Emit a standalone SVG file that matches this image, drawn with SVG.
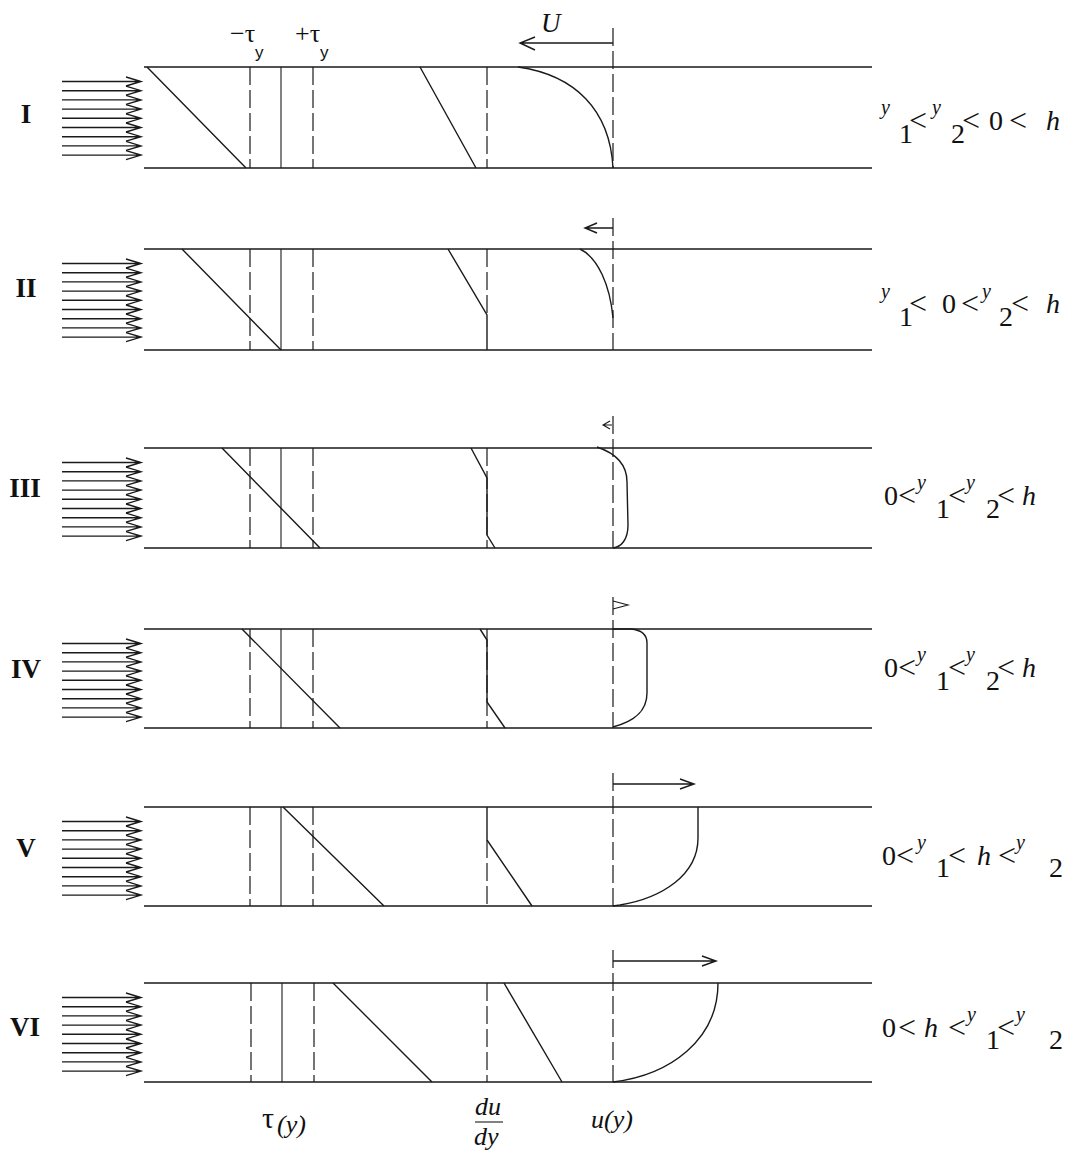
<svg xmlns="http://www.w3.org/2000/svg" xmlns:xlink="http://www.w3.org/1999/xlink" width="1073" height="1158" viewBox="0 0 1073 1158">
<style>
.ln{stroke:#1a1a1a;stroke-width:1.4;fill:none}
.ds{stroke:#1a1a1a;stroke-width:1.2;fill:none;stroke-dasharray:18 5}
.th{stroke:#1a1a1a;stroke-width:1.1;fill:none}
.rn{font-family:"Liberation Serif",serif;font-weight:bold;font-size:27px;fill:#111;text-anchor:middle}
.lb{font-family:"Liberation Serif",serif;font-size:28px;fill:#111}
.sp{font-family:"Liberation Serif",serif;font-style:italic;font-size:20px;fill:#111}
.lt{font-size:32px}
.it{font-style:italic}
.sy{font-family:"Liberation Sans",sans-serif;font-size:17px;fill:#111}
</style>
<defs>
<g id="flow" class="ln" stroke-width="1.1">
<path d="M62,14.5H141M126,10L141,14.5L126,19"/>
<path d="M62,23.7H141M126,19.2L141,23.7L126,28.2"/>
<path d="M62,32.9H141M126,28.4L141,32.9L126,37.4"/>
<path d="M62,42.1H141M126,37.6L141,42.1L126,46.6"/>
<path d="M62,51.3H141M126,46.8L141,51.3L126,55.8"/>
<path d="M62,60.5H141M126,56L141,60.5L126,65"/>
<path d="M62,69.7H141M126,65.2L141,69.7L126,74.2"/>
<path d="M62,78.9H141M126,74.4L141,78.9L126,83.4"/>
<path d="M62,88.1H141M126,83.6L141,88.1L126,92.6"/>
</g>
</defs>
<rect width="1073" height="1158" fill="#fff"/>

<g id="headers">
<text class="lb" x="230" y="42" style="font-size:26px">−τ</text>
<text class="sy" x="255" y="58">y</text>
<text class="lb" x="295" y="42" style="font-size:26px">+τ</text>
<text class="sy" x="320" y="58">y</text>
<text class="lb it" x="541" y="32" style="font-size:27px">U</text>
</g>

<g id="panel-I">
<text class="rn" x="26" y="123">I</text>
<use xlink:href="#flow" transform="translate(0,67)"/>
<path class="ln" d="M144,67H872M144,168H872"/>
<path class="ds" d="M250,67V168M313,67V168M487,67V168M613,28V168"/>
<path class="th" d="M281,67V168"/>
<path class="ln" d="M147,67L246,168M420,67L476,168M518,67C575,75 610,110 613,168"/>
<path class="ln" d="M613,43H520M535,37L520,43L535,50"/>
<text class="lb"><tspan class="sp" x="881" y="114">y</tspan><tspan x="899" y="143">1</tspan><tspan class="lt" x="909" y="131">&lt;</tspan><tspan class="sp" x="932" y="114">y</tspan><tspan x="951" y="143">2</tspan><tspan class="lt" x="962" y="131">&lt;</tspan><tspan x="989" y="130">0</tspan><tspan class="lt" x="1009" y="131">&lt;</tspan><tspan class="it" x="1046" y="130">h</tspan></text>
</g>

<g id="panel-II">
<text class="rn" x="26" y="297">II</text>
<use xlink:href="#flow" transform="translate(0,249)"/>
<path class="ln" d="M144,249H872M144,350H872"/>
<path class="ds" d="M250,249V350M313,249V350M487,249V315M613,218V350"/>
<path class="th" d="M281,249V350"/>
<path class="ln" d="M182,249L281,350M448,249L487,315L487,350M580,249C598,258 610,285 613,318"/>
<path class="ln" d="M613,228H585M597,223L585,228L597,233"/>
<text class="lb"><tspan class="sp" x="881" y="298">y</tspan><tspan x="899" y="326">1</tspan><tspan class="lt" x="909" y="314">&lt;</tspan><tspan x="942" y="313">0</tspan><tspan class="lt" x="961" y="314">&lt;</tspan><tspan class="sp" x="982" y="298">y</tspan><tspan x="999" y="326">2</tspan><tspan class="lt" x="1011" y="314">&lt;</tspan><tspan class="it" x="1046" y="313">h</tspan></text>
</g>

<g id="panel-III">
<text class="rn" x="25" y="497">III</text>
<use xlink:href="#flow" transform="translate(0,448)"/>
<path class="ln" d="M144,448H872M144,548H872"/>
<path class="ds" d="M250,448V548M313,448V548M487,448V548M613,416V548"/>
<path class="th" d="M281,448V548"/>
<path class="ln" d="M222,448L320,548M471,448L487,478L487,535L495,548M597,447C612,452 627,462 627,482L628,525C628,540 621,547 613,548"/>
<path class="th" d="M612,425H603M610,421L603,425L610,429"/>
<text class="lb"><tspan x="884" y="505">0</tspan><tspan class="lt" x="898" y="506">&lt;</tspan><tspan class="sp" x="917" y="489">y</tspan><tspan x="936" y="518">1</tspan><tspan class="lt" x="948" y="506">&lt;</tspan><tspan class="sp" x="966" y="489">y</tspan><tspan x="986" y="518">2</tspan><tspan class="lt" x="997" y="506">&lt;</tspan><tspan class="it" x="1022" y="505">h</tspan></text>
</g>

<g id="panel-IV">
<text class="rn" x="26" y="678">IV</text>
<use xlink:href="#flow" transform="translate(0,629)"/>
<path class="ln" d="M144,629H872M144,728H872"/>
<path class="ds" d="M250,629V728M313,629V728M487,629V728M613,597V728"/>
<path class="th" d="M281,629V728"/>
<path class="ln" d="M242,629L340,728M480,629L487,640L487,702L505,728M613,629L631,629C641,630 647,634 647,643L647,693C647,713 632,722 613,727"/>
<path class="th" d="M613,601L628,605L613,609"/>
<text class="lb"><tspan x="884" y="677">0</tspan><tspan class="lt" x="898" y="678">&lt;</tspan><tspan class="sp" x="917" y="661">y</tspan><tspan x="936" y="690">1</tspan><tspan class="lt" x="948" y="678">&lt;</tspan><tspan class="sp" x="966" y="661">y</tspan><tspan x="986" y="690">2</tspan><tspan class="lt" x="997" y="678">&lt;</tspan><tspan class="it" x="1022" y="677">h</tspan></text>
</g>

<g id="panel-V">
<text class="rn" x="26" y="857">V</text>
<use xlink:href="#flow" transform="translate(0,807)"/>
<path class="ln" d="M144,807H872M144,906H872"/>
<path class="ds" d="M250,807V906M313,807V906M487,840V906M613,773V906"/>
<path class="th" d="M281,807V906"/>
<path class="ln" d="M283,807L384,906M487,807L487,840L532,906M698,807L698,838C698,875 662,898 620,905L613,906"/>
<path class="ln" d="M613,784H694M680,779L694,784L680,789"/>
<text class="lb"><tspan x="882" y="865">0</tspan><tspan class="lt" x="896" y="866">&lt;</tspan><tspan class="sp" x="917" y="849">y</tspan><tspan x="936" y="877">1</tspan><tspan class="lt" x="948" y="866">&lt;</tspan><tspan class="it" x="977" y="865">h</tspan><tspan class="lt" x="998" y="866">&lt;</tspan><tspan class="sp" x="1016" y="849">y</tspan><tspan x="1049" y="877">2</tspan></text>
</g>

<g id="panel-VI">
<text class="rn" x="25" y="1036">VI</text>
<use xlink:href="#flow" transform="translate(0,983)"/>
<path class="ln" d="M144,983H872M144,1082H872"/>
<path class="ds" d="M251,983V1082M314,983V1082M487,983V1082M613,950V1082"/>
<path class="th" d="M282,983V1082"/>
<path class="ln" d="M333,983L432,1082M504,983L562,1082M613,1082C670,1075 718,1040 718,983"/>
<path class="ln" d="M613,961H716M702,956L716,961L702,966"/>
<text class="lb"><tspan x="882" y="1037">0</tspan><tspan class="lt" x="898" y="1038">&lt;</tspan><tspan class="it" x="924" y="1037">h</tspan><tspan class="lt" x="948" y="1038">&lt;</tspan><tspan class="sp" x="967" y="1021">y</tspan><tspan x="986" y="1049">1</tspan><tspan class="lt" x="997" y="1038">&lt;</tspan><tspan class="sp" x="1016" y="1021">y</tspan><tspan x="1049" y="1049">2</tspan></text>
</g>

<g id="axis-labels">
<text class="lb" x="262" y="1128" style="font-size:30px">τ</text>
<text class="lb it" x="277" y="1133" style="font-size:26px">(y)</text>
<text class="lb it" x="475" y="1115" style="font-size:26px">du</text>
<path class="th" d="M475,1122H503"/>
<text class="lb it" x="474" y="1145" style="font-size:26px">dy</text>
<text class="lb it" x="591" y="1128" style="font-size:26px">u(y)</text>
</g>
</svg>
